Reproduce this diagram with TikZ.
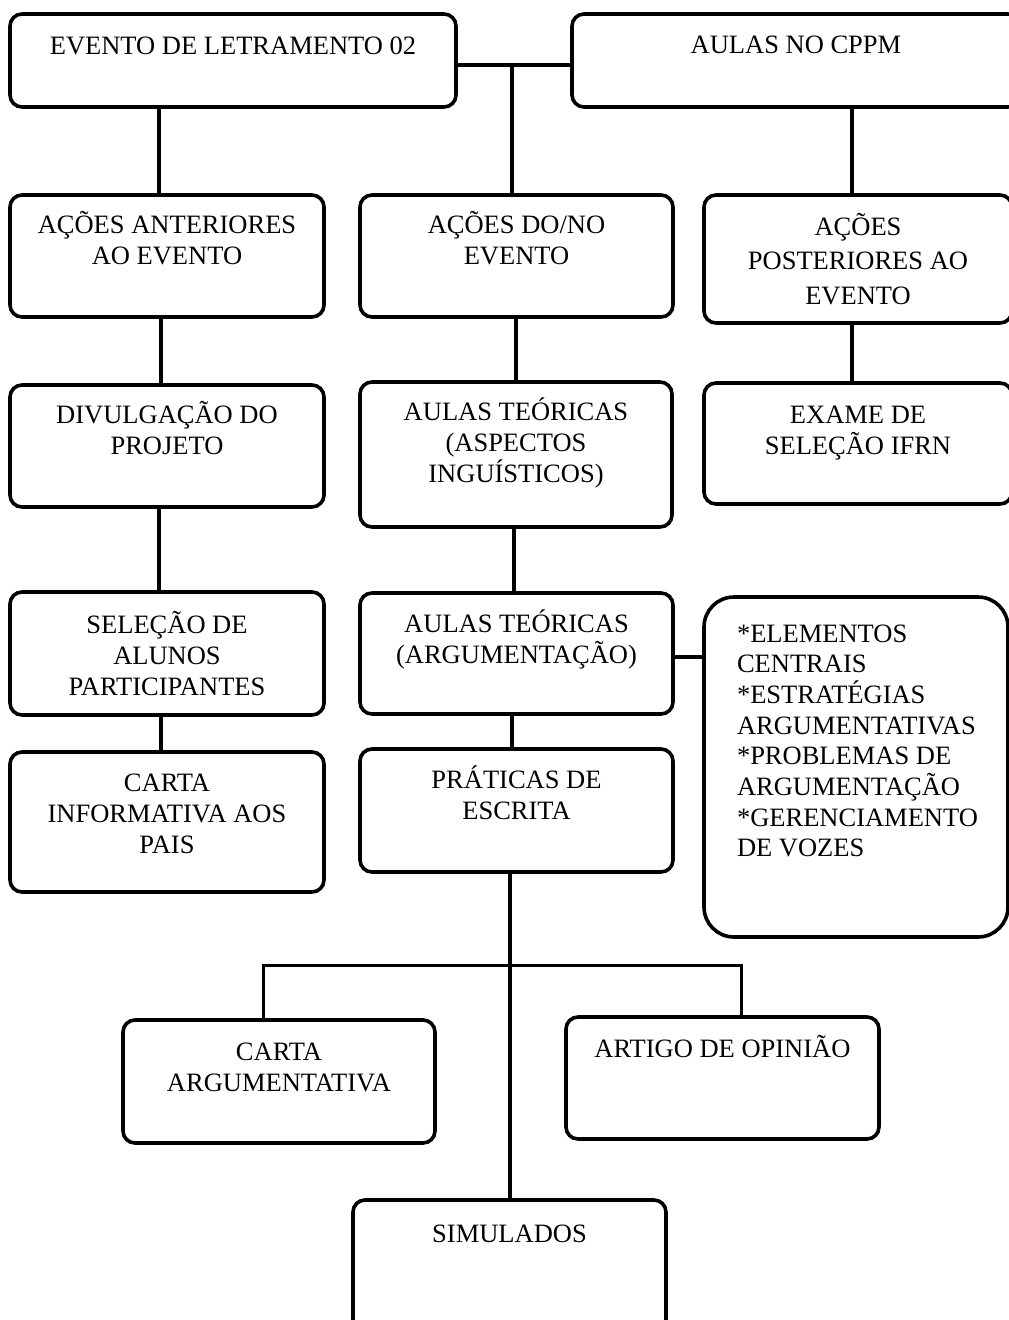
\documentclass[tikz,border=0pt]{standalone}
\usepackage{fontspec}
\setmainfont{Liberation Serif}
\newcommand{\bxt}[4]{\parbox[t][#2pt][t]{#1pt}{\centering\fontsize{26.5}{31}\selectfont\rule{0pt}{#3pt}#4}}
\begin{document}
\begin{tikzpicture}[x=1pt,y=-1pt,
  box/.style={draw, line width=3.6pt, rounded corners=12pt, inner sep=0pt, outer sep=0pt, anchor=north west},
  conn/.style={line width=3.4pt}]
\useasboundingbox (0,0) rectangle (1009,1320);
\clip (0,0) rectangle (1009,1320);
% boxes
\node[box] (ev)    at (10,14)   {\bxt{446}{93}{40}{EVENTO DE LETRAMENTO 02}};
\node[box] (cppm)  at (572,14)  {\bxt{448}{93}{39}{AULAS NO CPPM}};
\node[box] (ant)   at (10,195)  {\bxt{314}{122}{38}{AÇÕES ANTERIORES\\AO EVENTO}};
\node[box] (dono)  at (360,195) {\bxt{313}{122}{38}{AÇÕES DO/NO\\EVENTO}};
\node[box] (post)  at (704,195) {\parbox[t][128pt][t]{308pt}{\centering\fontsize{26.5}{34.5}\selectfont\rule{0pt}{40pt}AÇÕES\\POSTERIORES AO\\EVENTO}};
\node[box] (div)   at (10,385)  {\bxt{314}{122}{38}{DIVULGAÇÃO DO\\PROJETO}};
\node[box] (asp)   at (360,382) {\bxt{312}{145}{38}{AULAS TEÓRICAS\\(ASPECTOS\\INGUÍSTICOS)}};
\node[box] (exame) at (704,383) {\bxt{308}{121}{40}{EXAME DE\\SELEÇÃO IFRN}};
\node[box] (sel)   at (10,592)  {\bxt{314}{123}{41}{SELEÇÃO DE\\ALUNOS\\PARTICIPANTES}};
\node[box] (arg)   at (360,593) {\bxt{313}{121}{39}{AULAS TEÓRICAS\\(ARGUMENTAÇÃO)}};
\node[box, rounded corners=30pt] (elem) at (704,597) {\parbox[t][340pt][t]{304pt}{\raggedright\leftskip=33pt\fontsize{26.5}{30.7}\selectfont\rule{0pt}{45pt}*ELEMENTOS\\{}CENTRAIS\\{}*ESTRATÉGIAS\\{}ARGUMENTATIVAS\\{}*PROBLEMAS DE\\{}ARGUMENTAÇÃO\\{}*GERENCIAMENTO\\{}DE VOZES}};
\node[box] (carta) at (10,752)  {\bxt{314}{140}{39}{CARTA\\INFORMATIVA AOS\\PAIS}};
\node[box] (prat)  at (360,749) {\bxt{313}{123}{39}{PRÁTICAS DE\\ESCRITA}};
\node[box] (cartaarg) at (123,1020) {\bxt{312}{123}{40}{CARTA\\ARGUMENTATIVA}};
\node[box] (artigo) at (566,1017) {\bxt{313}{122}{40}{ARTIGO DE OPINIÃO}};
\node[box] (sim)   at (353,1200) {\bxt{313}{140}{42}{SIMULADOS}};
% connectors
\coordinate (j1) at (512,65);
\draw[conn] (j1 -| ev.east) -- (j1 -| cppm.west);
\draw[conn] (j1) -- (j1 |- dono.north);
\coordinate (cA) at (159,0);
\coordinate (cB) at (852,0);
\coordinate (cC) at (161,0);
\coordinate (cD) at (516,0);
\coordinate (cE) at (514,0);
\coordinate (cF) at (512,0);
\coordinate (cG) at (510,0);
\draw[conn] (cA |- ev.south) -- (cA |- ant.north);
\draw[conn] (cB |- cppm.south) -- (cB |- post.north);
\draw[conn] (cC |- ant.south) -- (cC |- div.north);
\draw[conn] (cD |- dono.south) -- (cD |- asp.north);
\draw[conn] (cB |- post.south) -- (cB |- exame.north);
\draw[conn] (cA |- div.south) -- (cA |- sel.north);
\draw[conn] (cE |- asp.south) -- (cE |- arg.north);
\coordinate (j2) at (0,657);
\draw[conn] (j2 -| arg.east) -- (j2 -| elem.west);
\draw[conn] (cC |- sel.south) -- (cC |- carta.north);
\draw[conn] (cF |- arg.south) -- (cF |- prat.north);
\draw[conn] (cG |- prat.south) -- (cG |- sim.north);
\coordinate (j3) at (263,965);
\coordinate (j4) at (741,965);
\draw[conn, line width=3pt] (j3 |- cartaarg.north) -- (j3) -- (j4) -- (j4 |- artigo.north);
\end{tikzpicture}
\end{document}
